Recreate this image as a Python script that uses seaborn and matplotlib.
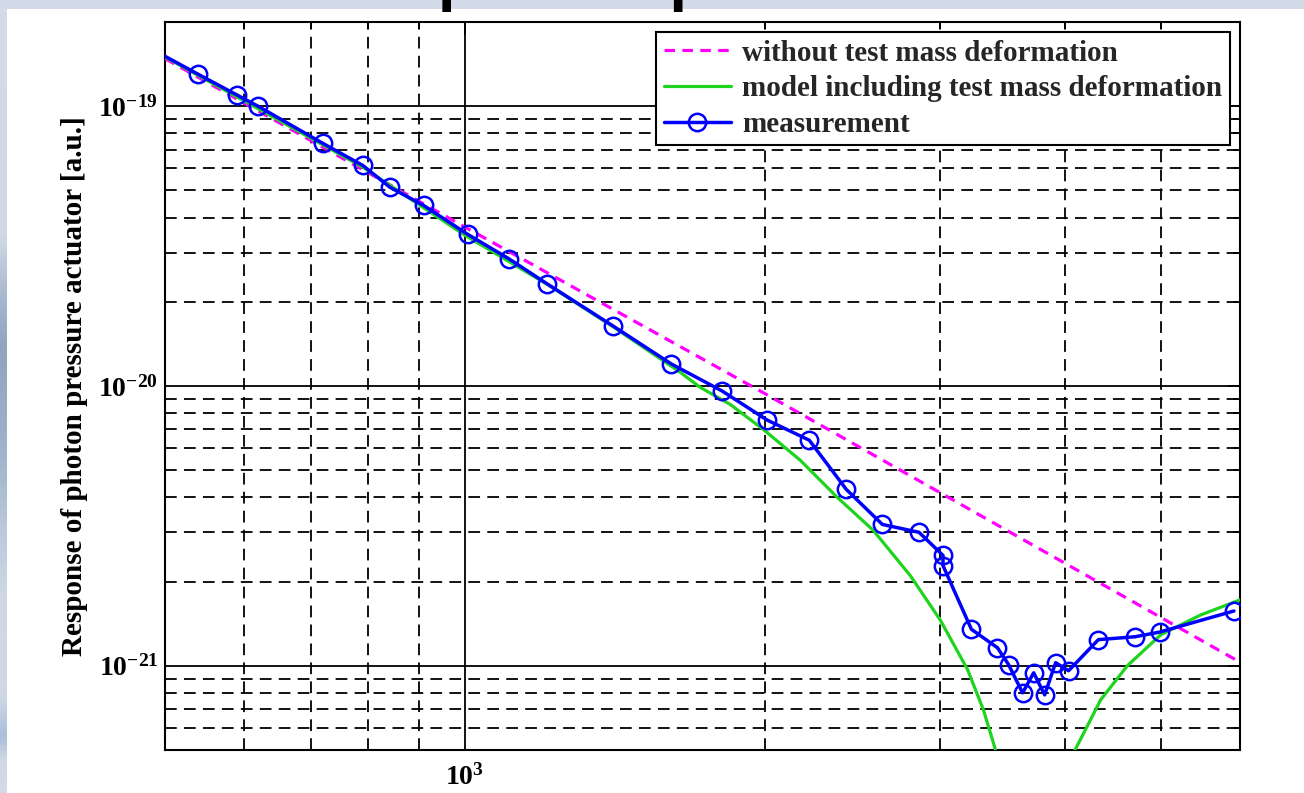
import numpy as np
import pandas as pd
import matplotlib
matplotlib.use("Agg")
import matplotlib.pyplot as plt
import seaborn as sns
from matplotlib.lines import Line2D
from matplotlib.patches import Rectangle
from matplotlib.colors import LinearSegmentedColormap
from matplotlib.ticker import LogLocator, NullFormatter

# ---------------- data ----------------
meas_f = [470, 540, 591, 620, 720, 790, 841, 909, 1007, 1107, 1209, 1408, 1611, 1812,
          2012, 2217, 2415, 2625, 2857, 3020, 3020, 3225, 3425, 3514, 3630, 3724,
          3820, 3918, 4037, 4325, 4710, 4984, 5917]
meas_r = [1.70e-19, 1.30e-19, 1.095e-19, 1.0e-19, 7.37e-20, 6.14e-20, 5.13e-20, 4.42e-20,
          3.48e-20, 2.85e-20, 2.32e-20, 1.64e-20, 1.20e-20, 9.6e-21, 7.55e-21, 6.4e-21,
          4.27e-21, 3.2e-21, 3.0e-21, 2.48e-21, 2.28e-21, 1.35e-21, 1.16e-21, 1.01e-21,
          8.0e-22, 9.44e-22, 7.87e-22, 1.026e-21, 9.6e-22, 1.24e-21, 1.27e-21, 1.32e-21,
          1.57e-21]

green_f1 = [500, 620, 790, 1000, 1209, 1408, 1645, 1722, 1846, 1993, 2171, 2365, 2570,
            2800, 3000, 3196, 3316, 3410, 3445]
green_r1 = [1.50e-19, 9.8e-20, 6.05e-20, 3.46e-20, 2.31e-20, 1.63e-20, 1.12e-20, 9.9e-21,
            8.6e-21, 7.0e-21, 5.43e-21, 4.0e-21, 3.05e-21, 2.10e-21, 1.46e-21, 9.7e-22,
            6.95e-22, 5.0e-22, 4.0e-22]
green_f2 = [4040, 4083, 4217, 4347, 4624, 4995, 5480, 6000]
green_r2 = [4.0e-22, 4.88e-22, 6.1e-22, 7.55e-22, 1.0e-21, 1.29e-21, 1.52e-21, 1.72e-21]

mag_f = [500, 1000, 2000, 6000]
mag_r = [1.48e-19, 3.7e-20, 9.4e-21, 1.03e-21]

series_labels = ["without test mass deformation",
                 "model including test mass deformation",
                 "measurement"]
xtick_vals = [1e3]
xtick_labels = [r"$10^{3}$"]
ytick_vals = [1e-21, 1e-20, 1e-19]
ytick_labels = [r"$10^{-21}$", r"$10^{-20}$", r"$10^{-19}$"]
ylabel = "Response of photon pressure actuator [a.u.]"
slide_title = "Calibration of photon pressure actuator"

# ---------------- style ----------------
sns.set_theme(style="white")
plt.rcParams["font.family"] = ["Liberation Serif", "DejaVu Serif"]
plt.rcParams["mathtext.fontset"] = "custom"
plt.rcParams["mathtext.rm"] = "Liberation Serif:bold"
plt.rcParams["mathtext.bf"] = "Liberation Serif:bold"
plt.rcParams["mathtext.it"] = "Liberation Serif:bold:italic"
plt.rcParams["mathtext.default"] = "rm"

W, H = 1304, 793
fig = plt.figure(figsize=(W / 100, H / 100), dpi=100, facecolor="#d3dbe8")

# white slide area
fig.patches.append(Rectangle((7 / W, 0), 1, 1 - 9 / H, transform=fig.transFigure,
                             facecolor="white", edgecolor="none", zorder=-10))
# left slide gradient strip
cmap = LinearSegmentedColormap.from_list(
    "strip",
    [(0.0, "#d3dbe8"), (0.29, "#d0d8e5"), (0.36, "#aabbd0"), (0.43, "#8ea5bf"),
     (0.57, "#a0b4cb"), (0.66, "#b9c8da"), (0.76, "#d0d8e6"), (0.88, "#cfd8e6"),
     (0.93, "#a9c0da"), (0.96, "#d0d8e6"), (1.0, "#d3dbe8")])
ax_bg = fig.add_axes([0, 0, 7 / W, 1 - 9 / H])
ax_bg.imshow(np.linspace(0, 1, 400).reshape(-1, 1), aspect="auto", cmap=cmap)
ax_bg.axis("off")

# slide title, almost entirely above the visible area (only descenders show)
fig.text(13 / W, 1 + 1 / H, slide_title, ha="left", va="baseline", fontsize=45.5,
         fontweight="bold", family="Liberation Sans", color="black")

ax = fig.add_axes([165 / W, 1 - 750 / H, (1240 - 165) / W, (750 - 22) / H])
ax.set_xscale("log")
ax.set_yscale("log")

mag_df = pd.DataFrame({"f": mag_f, "r": mag_r})
green_df = pd.DataFrame({"f": green_f1 + green_f2,
                         "r": green_r1 + green_r2,
                         "seg": [0] * len(green_f1) + [1] * len(green_f2)})
meas_df = pd.DataFrame({"f": meas_f, "r": meas_r})

magenta = "#ff00ff"
green = "#1ed41e"
blue = "#0000ff"

sns.lineplot(data=mag_df, x="f", y="r", ax=ax, color=magenta, lw=2.3,
             linestyle=(0, (3.3, 2.3)), estimator=None, sort=False, legend=False, zorder=3)
sns.lineplot(data=green_df, x="f", y="r", units="seg", ax=ax, color=green, lw=2.3,
             estimator=None, sort=False, legend=False, zorder=4)
sns.lineplot(data=meas_df, x="f", y="r", ax=ax, color=blue, lw=2.5, marker="o",
             markersize=12.5, markerfacecolor="none", markeredgecolor=blue,
             markeredgewidth=1.8, estimator=None, sort=False, legend=False, zorder=5)

ax.set_xlim(500, 6000)
ax.set_ylim(5e-22, 2e-19)

ax.set_xticks(xtick_vals, labels=xtick_labels)
ax.set_yticks(ytick_vals, labels=ytick_labels)
ax.xaxis.set_minor_locator(LogLocator(base=10, subs=np.arange(2, 10), numticks=20))
ax.yaxis.set_minor_locator(LogLocator(base=10, subs=np.arange(2, 10), numticks=20))
ax.xaxis.set_minor_formatter(NullFormatter())
ax.yaxis.set_minor_formatter(NullFormatter())

ax.set_axisbelow(True)
ax.grid(True, which="major", color="black", lw=1.3, ls="-")
ax.grid(True, which="minor", color="black", lw=1.3, ls=(0, (6.5, 4)))

ax.tick_params(which="both", direction="in", top=True, right=True, colors="black",
               width=1.3, labelsize=20)
ax.tick_params(axis="x", pad=10)
ax.tick_params(axis="y", pad=5)
ax.tick_params(which="major", length=9)
ax.tick_params(which="minor", length=5)
for s in ax.spines.values():
    s.set_color("black")
    s.set_linewidth(1.5)
    s.set_visible(True)

ax.set_xlabel("")
ax.set_ylabel(ylabel, fontsize=21, fontweight="bold", color="black")
ax.yaxis.set_label_coords(-0.072, 0.5)

handles = [Line2D([], [], color=magenta, lw=2.3, linestyle=(0, (3.3, 2.3))),
           Line2D([], [], color=green, lw=2.3),
           Line2D([], [], color=blue, lw=2.5, marker="o", markersize=12.5,
                  markerfacecolor="none", markeredgewidth=1.8)]
leg = ax.legend(handles, series_labels, loc="upper right", borderaxespad=0.35,
                prop={"family": "Liberation Serif", "weight": "bold", "size": 21},
                frameon=True, fancybox=False, framealpha=1, edgecolor="black",
                handlelength=2.3, handletextpad=0.4, labelspacing=0.3, borderpad=0.25)
leg.get_frame().set_linewidth(1.5)
leg.set_zorder(10)

fig.savefig("out.png", dpi=100)
